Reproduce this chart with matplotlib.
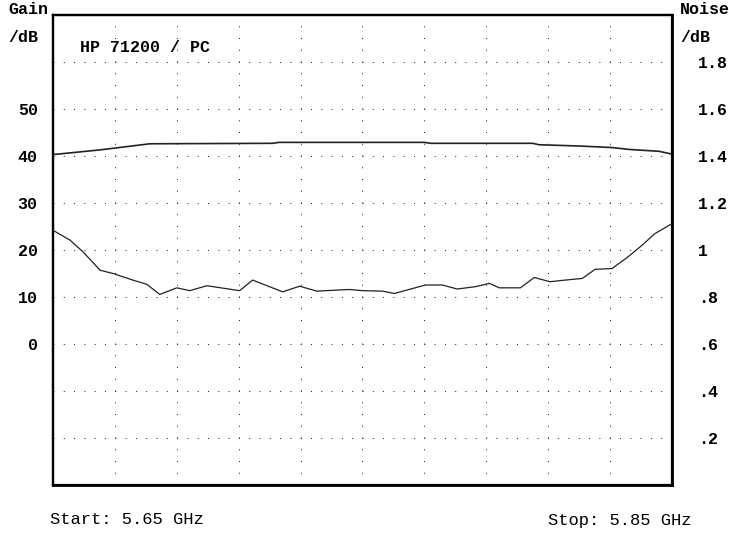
import matplotlib
matplotlib.use("Agg")
import matplotlib.pyplot as plt
import numpy as np

# ---- data ----
gain_freq = [5.6500, 5.6652, 5.6813, 5.7210, 5.7230, 5.7490, 5.7700, 5.7720,
             5.8050, 5.8070, 5.8210, 5.8306, 5.8361, 5.8458, 5.8500]
gain_db = [40.3, 41.3, 42.6, 42.7, 42.9, 42.9, 42.9, 42.7,
           42.7, 42.4, 42.1, 41.8, 41.4, 41.0, 40.4]

noise_freq = [5.6500, 5.6555, 5.6597, 5.6652, 5.6694, 5.6758, 5.6803, 5.6845, 5.6900,
              5.6942, 5.6997, 5.7103, 5.7145, 5.7242, 5.7297, 5.7352, 5.7458, 5.7500,
              5.7565, 5.7603, 5.7703, 5.7758, 5.7806, 5.7865, 5.7910, 5.7942, 5.8010,
              5.8055, 5.8106, 5.8155, 5.8210, 5.8252, 5.8306, 5.8358, 5.8403, 5.8445,
              5.8500]
noise_db = [1.084, 1.042, 0.992, 0.914, 0.900, 0.872, 0.854, 0.811, 0.839, 0.827,
            0.848, 0.827, 0.872, 0.822, 0.846, 0.825, 0.832, 0.827, 0.825, 0.815,
            0.851, 0.851, 0.834, 0.844, 0.858, 0.839, 0.839, 0.883, 0.865, 0.872,
            0.879, 0.918, 0.921, 0.971, 1.020, 1.070, 1.112]

x_grid = [5.67, 5.69, 5.71, 5.73, 5.75, 5.77, 5.79, 5.81, 5.83]
gain_ticks = [-20, -10, 0, 10, 20, 30, 40, 50, 60]
gain_labels = ['', '', '0', '10', '20', '30', '40', '50', '']
noise_ticks = [0.2, 0.4, 0.6, 0.8, 1.0, 1.2, 1.4, 1.6, 1.8]
noise_labels = ['.2', '.4', '.6', '.8', '1', '1.2', '1.4', '1.6', '1.8']

W, H = 729, 533
fig = plt.figure(figsize=(W / 100, H / 100), dpi=100)
fig.patch.set_facecolor('white')
L, R, T, B = 53, 672, 15, 485
ax = fig.add_axes([L / W, 1 - B / H, (R - L) / W, (B - T) / H])
ax2 = ax.twinx()

ax.set_xlim(5.65, 5.85)
ax.set_ylim(-30, 70)
ax2.set_ylim(0, 2.0)

font_b = dict(family='Liberation Mono', weight='bold', size=12)

ax.set_xticks(x_grid)
ax.set_xticklabels([])
ax.set_yticks(gain_ticks)
ax.set_yticklabels(gain_labels, fontdict=font_b)
ax.tick_params(axis='both', length=0)
ax.tick_params(axis='y', pad=11)
ax2.set_yticks(noise_ticks)
ax2.set_yticklabels(noise_labels, fontdict=font_b)
ax2.tick_params(axis='y', length=0, pad=19)

for xv in x_grid:
    ax.axvline(xv, color='#222222', lw=0.72, linestyle=(0, (1, 10.75)), zorder=1)
for yv in gain_ticks:
    ax.axhline(yv, color='#222222', lw=0.72, linestyle=(0, (1, 9.3)), zorder=1)

ax.plot(gain_freq, gain_db, color='#222222', lw=1.2, zorder=3)
ax2.plot(noise_freq, noise_db, color='#222222', lw=0.9, zorder=3)

for a in (ax, ax2):
    for s in a.spines.values():
        s.set_linewidth(1.6)
        s.set_color('black')
ax2.spines['right'].set_linewidth(2.0)
ax2.spines['bottom'].set_linewidth(2.0)

fig.text(8 / W, 1 - 9 / H, 'Gain', ha='left', va='center', **font_b)
fig.text(8 / W, 1 - 37 / H, '/dB', ha='left', va='center', **font_b)
fig.text(680 / W, 1 - 9 / H, 'Noise', ha='left', va='center', **font_b)
fig.text(680 / W, 1 - 37 / H, '/dB', ha='left', va='center', **font_b)
fig.text(80 / W, 1 - 48 / H, 'HP 71200 / PC', ha='left', va='center', **font_b)

font_n = dict(family='Liberation Mono', weight='normal', size=12.3)
fig.text(50 / W, 1 - 520 / H, 'Start: 5.65 GHz', ha='left', va='center', **font_n)
fig.text(548 / W, 1 - 520 / H, 'Stop: 5.85 GHz', ha='left', va='center', **font_n)

fig.savefig('out.png', dpi=100)
